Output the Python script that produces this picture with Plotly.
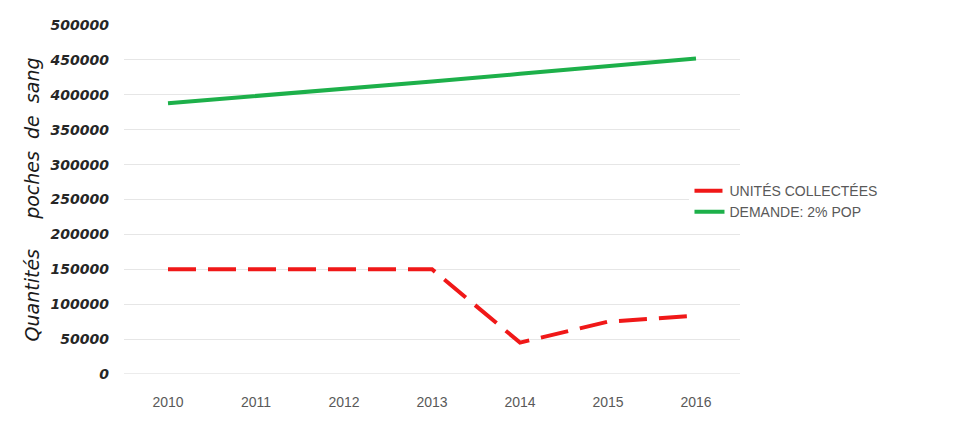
import plotly.graph_objects as go

# years and series
years = ["2010", "2011", "2012", "2013", "2014", "2015", "2016"]
collected = [150000, 150000, 150000, 150000, 45000, 75000, 83500]
demand = [388000, 398000, 408500, 419000, 430000, 441000, 452000]
y_ticks = list(range(0, 500001, 50000))

fig = go.Figure()
fig.add_trace(go.Scatter(
    x=years, y=collected, mode="lines", name="UNITÉS COLLECTÉES",
    line=dict(color="#f01818", width=4, dash="28px,12px"),
))
fig.add_trace(go.Scatter(
    x=years, y=demand, mode="lines", name="DEMANDE: 2% POP",
    line=dict(color="#1db04a", width=4),
))

# page keeps an 8px body margin, so the figure is sized to fit inside it
fig.update_layout(
    width=944, height=411,
    margin=dict(l=116, r=212, t=9, b=40),
    paper_bgcolor="white", plot_bgcolor="white",
    showlegend=True,
    legend=dict(
        x=0.918, y=0.57, xanchor="left", yanchor="top",
        bgcolor="white", traceorder="normal",
        font=dict(family="Liberation Sans Narrow, Liberation Sans", size=14, color="#595959"),
        tracegroupgap=0, itemwidth=30,
    ),
    xaxis=dict(
        type="category", range=[-0.5, 6.5], showgrid=False, zeroline=False,
        tickfont=dict(family="Liberation Sans Narrow, Liberation Sans", size=14, color="#595959"),
        ticks="", showline=False, ticklabelstandoff=18,
    ),
    yaxis=dict(
        range=[0, 500000], tickvals=y_ticks,
        tickformat="d",
        gridcolor="#e6e6e6", gridwidth=1, zeroline=False,
        tickfont=dict(family="DejaVu Sans", size=14, color="#262626", style="italic", weight="bold"),
        ticklabelstandoff=14,
        title=dict(
            text="Quantités     poches  de  sang",
            font=dict(family="DejaVu Sans", size=19, color="#1a1a1a", style="italic"),
            standoff=4,
        ),
    ),
)
fig.add_hline(y=0, line=dict(color="#d9d9d9", width=1))

fig.write_html("out.html")
